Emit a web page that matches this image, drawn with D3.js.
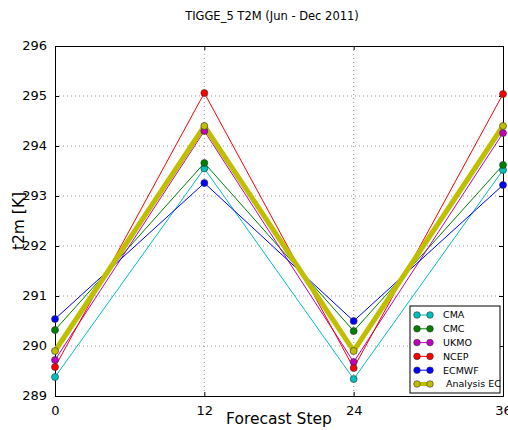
<!DOCTYPE html>
<html>
<head>
<meta charset="utf-8">
<script src="https://cdn.jsdelivr.net/npm/d3@7"></script>
<style>
  body { margin: 0; background: #fff; }
  svg { font-family: "DejaVu Sans", sans-serif; }
</style>
</head>
<body>
<svg id="chart" width="508" height="430"></svg>
<script>
// forecast steps (hours)
const steps = [0, 12, 24, 36];
const yTicks = [289, 290, 291, 292, 293, 294, 295, 296];

// series values
const cma = [289.38, 293.55, 289.34, 293.52];
const cmc = [290.32, 293.66, 290.30, 293.62];
const ukmo = [289.72, 294.30, 289.68, 294.26];
const ncep = [289.58, 295.06, 289.56, 295.04];
const ecmwf = [290.54, 293.26, 290.50, 293.22];
const analysisEC = [289.90, 294.40, 289.90, 294.40];

const seriesNames = ['CMA', 'CMC', 'UKMO', 'NCEP', 'ECMWF', ' Analysis EC'];
const seriesValues = [cma, cmc, ukmo, ncep, ecmwf, analysisEC];
const seriesColors = ['#00bfbf', '#008000', '#bf00bf', '#ff0000', '#0000ff', '#bfbf00'];

const svg = d3.select('#chart');

// axes box
const margin = { top: 46, right: 5, bottom: 34, left: 55 };
const width = 508 - margin.left - margin.right;
const height = 430 - margin.top - margin.bottom;

const g = svg.append('g').attr('transform', `translate(${margin.left},${margin.top})`);

const x = d3.scaleLinear().domain([0, 36]).range([0, width]);
const y = d3.scaleLinear().domain([289, 296]).range([height, 0]);

// dotted grid
g.append('g')
  .selectAll('line')
  .data(yTicks.slice(1, -1))
  .enter().append('line')
  .attr('x1', 0).attr('x2', width)
  .attr('y1', d => y(d)).attr('y2', d => y(d))
  .attr('stroke', '#999').attr('stroke-dasharray', '1,3');
g.append('g')
  .selectAll('line')
  .data(steps.slice(1, -1))
  .enter().append('line')
  .attr('x1', d => x(d)).attr('x2', d => x(d))
  .attr('y1', 0).attr('y2', height)
  .attr('stroke', '#999').attr('stroke-dasharray', '1,3');

// axes with inward ticks
const xAxis = g.append('g')
  .attr('transform', `translate(0,${height})`)
  .call(d3.axisBottom(x).tickValues(steps).tickFormat(d3.format('d')).tickSize(-4).tickPadding(8));
const yAxis = g.append('g')
  .call(d3.axisLeft(y).tickValues(yTicks).tickFormat(d3.format('d')).tickSize(-4).tickPadding(8));
g.append('g').call(d3.axisTop(x).tickValues(steps).tickSize(-4).tickFormat(''));
g.append('g').attr('transform', `translate(${width},0)`)
  .call(d3.axisRight(y).tickValues(yTicks).tickSize(-4).tickFormat(''));

svg.selectAll('.domain').attr('stroke', '#000').attr('stroke-width', 1);
svg.selectAll('.tick line').attr('stroke', '#000');
[xAxis, yAxis].forEach(a => a.selectAll('text')
  .attr('font-family', '"DejaVu Sans", sans-serif')
  .attr('font-size', 13).attr('fill', '#000'));
xAxis.selectAll('text').attr('dy', '0.85em');
yAxis.selectAll('text').attr('dy', '0.3em');

const line = d3.line().x((d, i) => x(steps[i])).y(d => y(d));

seriesValues.forEach((vals, k) => {
  const isAnalysis = k === seriesValues.length - 1;
  g.append('path')
    .datum(vals)
    .attr('d', line)
    .attr('fill', 'none')
    .attr('stroke', seriesColors[k])
    .attr('stroke-width', isAnalysis ? 5 : 1);
});
seriesValues.forEach((vals, k) => {
  g.append('g')
    .selectAll('circle')
    .data(vals)
    .enter().append('circle')
    .attr('cx', (d, i) => x(steps[i]))
    .attr('cy', d => y(d))
    .attr('r', 3.5)
    .attr('fill', seriesColors[k])
    .attr('stroke', '#333')
    .attr('stroke-width', 0.6);
});

// title and labels
svg.append('text')
  .attr('x', 272).attr('y', 20)
  .attr('text-anchor', 'middle')
  .attr('font-size', 11.5)
  .text('TIGGE_5 T2M (Jun - Dec 2011)');

svg.append('text')
  .attr('x', margin.left + width / 2).attr('y', 424)
  .attr('text-anchor', 'middle')
  .attr('font-size', 15.5)
  .text('Forecast Step');

svg.append('text')
  .attr('transform', `translate(24,${margin.top + height / 2}) rotate(-90)`)
  .attr('text-anchor', 'middle')
  .attr('font-size', 15.5)
  .text('t2m [K]');

// legend
const lg = svg.append('g').attr('transform', 'translate(410,306)');
lg.append('rect')
  .attr('width', 90).attr('height', 87)
  .attr('fill', '#fff').attr('stroke', '#000').attr('stroke-width', 1);
seriesNames.forEach((name, k) => {
  const ly = 9 + k * 13.8;
  const isAnalysis = k === seriesNames.length - 1;
  lg.append('line')
    .attr('x1', 7).attr('x2', 20).attr('y1', ly).attr('y2', ly)
    .attr('stroke', seriesColors[k]).attr('stroke-width', isAnalysis ? 4 : 1);
  [7, 20].forEach(cx => lg.append('circle')
    .attr('cx', cx).attr('cy', ly).attr('r', 3.3)
    .attr('fill', seriesColors[k]).attr('stroke', '#333').attr('stroke-width', 0.6));
  lg.append('text')
    .attr('x', 33).attr('y', ly).attr('dy', '0.35em')
    .attr('font-size', 9.5)
    .attr('xml:space', 'preserve')
    .style('white-space', 'pre')
    .text(name);
});
</script>
</body>
</html>
